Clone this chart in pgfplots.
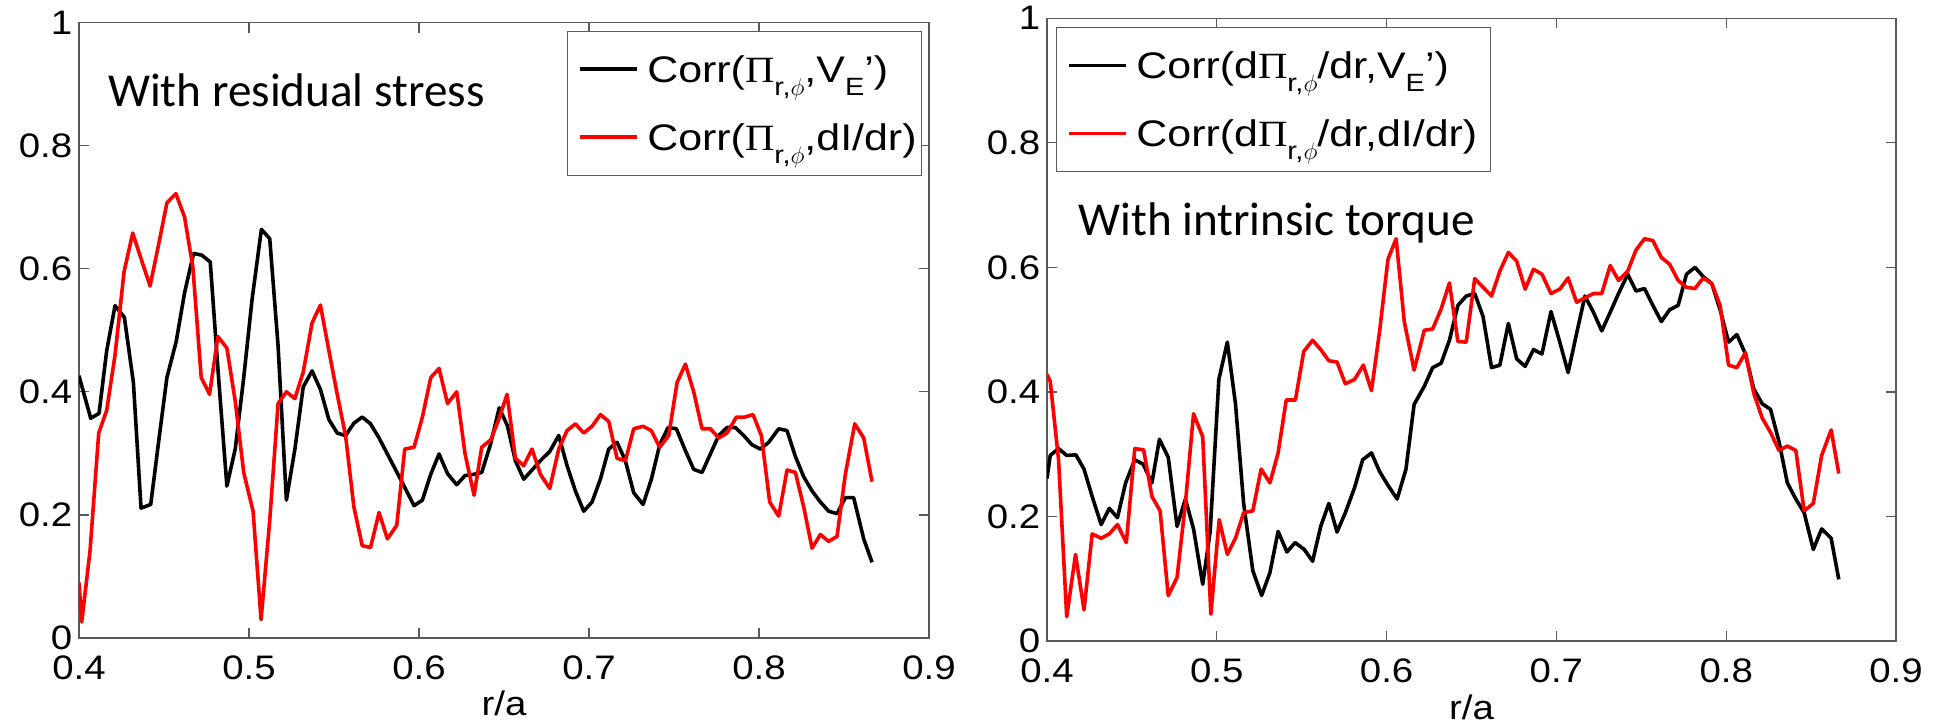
\documentclass[border=0pt]{standalone}
\usepackage{fontspec}
\usepackage{pgfplots}
\pgfplotsset{compat=1.18}
\newfontfamily\mfont[FakeStretch=1.13]{Liberation Sans}
\newfontfamily\lfont[FakeStretch=1.16]{Liberation Sans}
\newfontfamily\pifont[FakeStretch=1.1]{Liberation Serif}
\newfontfamily\cfont{Carlito}
\definecolor{axgray}{RGB}{90,90,90}
\newcommand\tickfont{\mfont\fontsize{17}{17}\selectfont}
\newcommand\legfont{\lfont\fontsize{18.5}{18.5}\selectfont}
\newcommand\sub[1]{\raisebox{-6.5pt}{\lfont\fontsize{12.5}{12.5}\selectfont #1}}
\newcommand\PI{{\pifont Π}}
\pgfplotsset{
  mystyle/.style={
    scale only axis, xmin=0.4,xmax=0.9,ymin=0,ymax=1,
    xtick={0.4,0.5,0.6,0.7,0.8,0.9}, xticklabels={0.4,0.5,0.6,0.7,0.8,0.9},
    ytick={0,0.2,0.4,0.6,0.8,1}, yticklabels={0,0.2,0.4,0.6,0.8,1},
    tick align=inside, major tick length=5pt,
    axis line style={draw=axgray,line width=0.6pt},
    every tick/.style={draw=axgray,line width=0.6pt},
    tick label style={font=\tickfont, inner sep=0pt},
    yticklabel style={xshift=-3.2pt},
    xticklabel style={yshift=-8.5pt},
    xlabel={r/a},
    xlabel style={font=\tickfont, at={(axis description cs:0.5,-0.106)}, anchor=center, inner sep=0pt},
    legend image code/.code={\draw[#1, line width=1.8pt] (0pt,0pt) -- (28.3pt,0pt);},
    legend style={draw=axgray, line width=0.6pt, font=\legfont, inner xsep=5.5pt, inner ysep=2pt, row sep=0pt,
      nodes={inner sep=0pt, text height=23.5pt, text depth=10.5pt},
      /tikz/every odd column/.append style={column sep=4.3pt}},
    legend cell align=left,
  }
}
\begin{document}
\begin{tikzpicture}
\useasboundingbox (0,0) rectangle (978pt,361.5pt);
\begin{axis}[mystyle, at={(39.5pt,42.5pt)}, anchor=south west, width=425pt, height=307.7pt,
  legend style={at={(0.574,0.987)}, anchor=north west}]
\addplot[black, line width=1.8pt, line join=round] coordinates {
(0.4000,0.426)(0.4069,0.357)(0.4118,0.365)(0.4163,0.467)(0.4212,0.540)(0.4267,0.521)(0.4320,0.415)(0.4365,0.211)(0.4422,0.217)(0.4468,0.318)(0.4517,0.423)(0.4572,0.482)(0.4621,0.561)(0.4674,0.625)(0.4723,0.622)(0.4772,0.611)(0.4821,0.423)(0.4870,0.247)(0.4919,0.307)(0.4969,0.423)(0.5018,0.550)(0.5073,0.664)(0.5122,0.649)(0.5171,0.475)(0.5220,0.224)(0.5270,0.307)(0.5319,0.408)(0.5371,0.434)(0.5420,0.404)(0.5470,0.355)(0.5519,0.333)(0.5568,0.329)(0.5617,0.349)(0.5666,0.359)(0.5715,0.348)(0.5765,0.325)(0.5814,0.299)(0.5863,0.273)(0.5912,0.247)(0.5971,0.215)(0.6020,0.224)(0.6069,0.266)(0.6118,0.299)(0.6168,0.267)(0.6222,0.249)(0.6271,0.264)(0.6324,0.266)(0.6369,0.269)(0.6420,0.314)(0.6472,0.374)(0.6520,0.345)(0.6567,0.288)(0.6616,0.258)(0.6665,0.273)(0.6714,0.288)(0.6769,0.303)(0.6822,0.329)(0.6871,0.280)(0.6920,0.239)(0.6969,0.206)(0.7018,0.221)(0.7067,0.258)(0.7116,0.307)(0.7165,0.318)(0.7214,0.288)(0.7263,0.236)(0.7318,0.217)(0.7367,0.258)(0.7416,0.314)(0.7465,0.342)(0.7514,0.340)(0.7563,0.307)(0.7616,0.274)(0.7665,0.269)(0.7714,0.299)(0.7763,0.329)(0.7812,0.342)(0.7861,0.342)(0.7910,0.329)(0.7959,0.314)(0.8008,0.307)(0.8057,0.318)(0.8116,0.340)(0.8165,0.337)(0.8214,0.295)(0.8263,0.262)(0.8312,0.239)(0.8361,0.221)(0.8410,0.206)(0.8459,0.202)(0.8508,0.228)(0.8557,0.228)(0.8616,0.161)(0.8665,0.123)};
\addlegendentry{\makebox[131.7pt][l]{Corr(\PI\sub{r,$\phi$},V\sub{E}’)}}
\addplot[red, line width=1.8pt, line join=round] coordinates {
(0.4000,0.090)(0.4016,0.026)(0.4065,0.142)(0.4116,0.333)(0.4163,0.370)(0.4212,0.460)(0.4265,0.595)(0.4316,0.658)(0.4369,0.613)(0.4418,0.572)(0.4468,0.639)(0.4517,0.707)(0.4570,0.722)(0.4621,0.684)(0.4670,0.602)(0.4719,0.423)(0.4768,0.396)(0.4817,0.490)(0.4870,0.471)(0.4919,0.385)(0.4969,0.269)(0.5024,0.206)(0.5071,0.030)(0.5122,0.191)(0.5171,0.381)(0.5220,0.400)(0.5270,0.389)(0.5319,0.432)(0.5371,0.512)(0.5420,0.541)(0.5470,0.467)(0.5519,0.396)(0.5568,0.329)(0.5617,0.213)(0.5666,0.150)(0.5715,0.147)(0.5765,0.204)(0.5814,0.161)(0.5869,0.183)(0.5916,0.307)(0.5971,0.310)(0.6020,0.359)(0.6069,0.423)(0.6118,0.438)(0.6168,0.381)(0.6222,0.400)(0.6271,0.299)(0.6324,0.232)(0.6369,0.310)(0.6422,0.322)(0.6469,0.355)(0.6518,0.396)(0.6567,0.292)(0.6616,0.280)(0.6665,0.307)(0.6714,0.266)(0.6769,0.243)(0.6822,0.307)(0.6871,0.337)(0.6920,0.348)(0.6969,0.333)(0.7018,0.344)(0.7067,0.363)(0.7116,0.352)(0.7165,0.292)(0.7214,0.288)(0.7263,0.340)(0.7318,0.344)(0.7367,0.337)(0.7416,0.310)(0.7469,0.329)(0.7518,0.415)(0.7567,0.445)(0.7616,0.400)(0.7665,0.340)(0.7714,0.340)(0.7763,0.325)(0.7812,0.333)(0.7867,0.359)(0.7916,0.359)(0.7965,0.363)(0.8014,0.329)(0.8063,0.221)(0.8116,0.198)(0.8165,0.273)(0.8214,0.269)(0.8263,0.213)(0.8312,0.146)(0.8361,0.168)(0.8410,0.157)(0.8459,0.165)(0.8508,0.266)(0.8563,0.348)(0.8616,0.325)(0.8665,0.254)};
\addlegendentry{\makebox[131.7pt][l]{Corr(\PI\sub{r,$\phi$},dI/dr)}}
\node[anchor=base west, inner sep=0pt, font=\cfont\fontsize{23.6}{23.6}\selectfont] at (rel axis cs:0.0338,0.8635) {With residual stress};
\end{axis}
\begin{axis}[mystyle, at={(523.5pt,41pt)}, anchor=south west, width=424.5pt, height=311.35pt,
  legend style={at={(0.0106,0.9865)}, anchor=north west}]
\addplot[black, line width=1.8pt, line join=round] coordinates {
(0.4000,0.261)(0.4019,0.298)(0.4068,0.309)(0.4116,0.298)(0.4170,0.299)(0.4218,0.276)(0.4266,0.232)(0.4319,0.187)(0.4367,0.213)(0.4415,0.198)(0.4463,0.254)(0.4517,0.291)(0.4566,0.284)(0.4618,0.254)(0.4662,0.324)(0.4714,0.295)(0.4766,0.184)(0.4815,0.228)(0.4863,0.180)(0.4917,0.091)(0.4961,0.176)(0.5012,0.420)(0.5062,0.480)(0.5110,0.381)(0.5158,0.221)(0.5212,0.113)(0.5264,0.073)(0.5313,0.110)(0.5361,0.176)(0.5413,0.143)(0.5461,0.158)(0.5515,0.147)(0.5564,0.128)(0.5612,0.184)(0.5660,0.221)(0.5708,0.175)(0.5757,0.206)(0.5811,0.246)(0.5859,0.291)(0.5911,0.302)(0.5959,0.272)(0.6008,0.250)(0.6062,0.228)(0.6114,0.276)(0.6162,0.380)(0.6222,0.409)(0.6271,0.439)(0.6321,0.446)(0.6370,0.483)(0.6420,0.539)(0.6469,0.554)(0.6519,0.558)(0.6568,0.521)(0.6618,0.439)(0.6667,0.443)(0.6717,0.510)(0.6766,0.453)(0.6816,0.441)(0.6865,0.468)(0.6915,0.461)(0.6968,0.529)(0.7020,0.480)(0.7069,0.431)(0.7119,0.494)(0.7168,0.554)(0.7218,0.528)(0.7267,0.498)(0.7317,0.528)(0.7366,0.558)(0.7420,0.589)(0.7469,0.562)(0.7519,0.566)(0.7568,0.539)(0.7618,0.513)(0.7667,0.532)(0.7717,0.539)(0.7766,0.589)(0.7816,0.600)(0.7865,0.585)(0.7915,0.574)(0.7964,0.532)(0.8014,0.480)(0.8063,0.492)(0.8113,0.461)(0.8162,0.405)(0.8212,0.381)(0.8261,0.372)(0.8311,0.320)(0.8360,0.254)(0.8410,0.228)(0.8459,0.206)(0.8513,0.147)(0.8562,0.180)(0.8618,0.165)(0.8663,0.099)};
\addlegendentry{\makebox[171.7pt][l]{Corr(d\PI\sub{r,$\phi$}/dr,V\sub{E}’)}}
\addplot[red, line width=1.8pt, line join=round] coordinates {
(0.4000,0.428)(0.4019,0.417)(0.4068,0.291)(0.4116,0.039)(0.4168,0.139)(0.4218,0.050)(0.4266,0.172)(0.4319,0.165)(0.4367,0.172)(0.4415,0.187)(0.4467,0.158)(0.4517,0.309)(0.4569,0.307)(0.4618,0.232)(0.4666,0.209)(0.4714,0.073)(0.4766,0.102)(0.4815,0.221)(0.4863,0.365)(0.4917,0.328)(0.4965,0.043)(0.5014,0.195)(0.5062,0.139)(0.5110,0.165)(0.5158,0.206)(0.5212,0.209)(0.5261,0.276)(0.5313,0.254)(0.5361,0.302)(0.5409,0.387)(0.5463,0.387)(0.5512,0.465)(0.5564,0.483)(0.5612,0.468)(0.5660,0.450)(0.5708,0.448)(0.5757,0.413)(0.5811,0.420)(0.5863,0.443)(0.5911,0.402)(0.5959,0.498)(0.6008,0.613)(0.6056,0.646)(0.6104,0.513)(0.6162,0.435)(0.6222,0.499)(0.6271,0.501)(0.6321,0.533)(0.6370,0.575)(0.6420,0.481)(0.6469,0.480)(0.6519,0.582)(0.6568,0.568)(0.6618,0.554)(0.6667,0.594)(0.6717,0.624)(0.6766,0.610)(0.6816,0.565)(0.6865,0.597)(0.6915,0.589)(0.6968,0.558)(0.7020,0.565)(0.7069,0.583)(0.7119,0.544)(0.7168,0.551)(0.7218,0.558)(0.7267,0.558)(0.7317,0.603)(0.7366,0.579)(0.7420,0.594)(0.7469,0.628)(0.7519,0.646)(0.7568,0.643)(0.7618,0.616)(0.7667,0.605)(0.7717,0.579)(0.7766,0.568)(0.7816,0.566)(0.7865,0.583)(0.7915,0.574)(0.7964,0.539)(0.8014,0.443)(0.8063,0.439)(0.8113,0.463)(0.8162,0.398)(0.8212,0.358)(0.8261,0.335)(0.8311,0.306)(0.8360,0.313)(0.8410,0.306)(0.8459,0.209)(0.8513,0.221)(0.8562,0.298)(0.8618,0.339)(0.8663,0.269)};
\addlegendentry{\makebox[171.7pt][l]{Corr(d\PI\sub{r,$\phi$}/dr,dI/dr)}}
\node[anchor=base west, inner sep=0pt, font=\cfont\fontsize{23.6}{23.6}\selectfont] at (rel axis cs:0.0365,0.652) {With intrinsic torque};
\end{axis}
\end{tikzpicture}
\end{document}
